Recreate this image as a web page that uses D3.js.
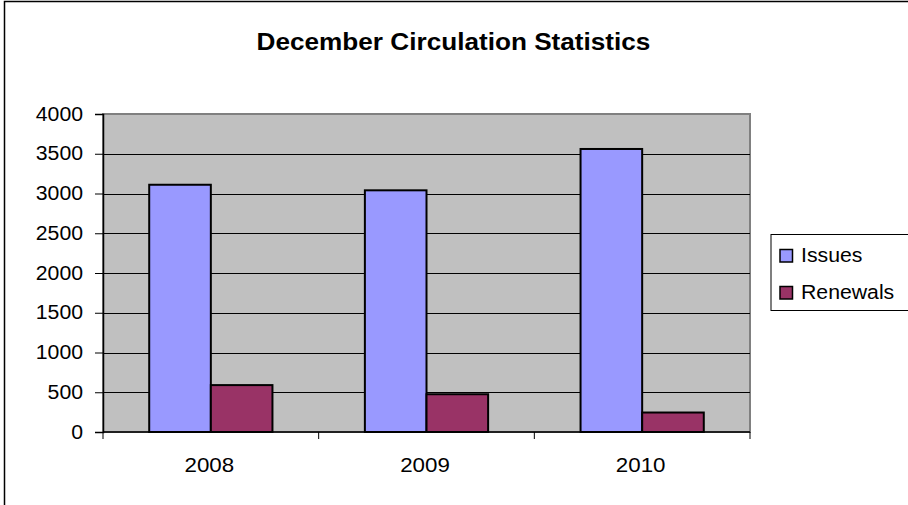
<!DOCTYPE html>
<html>
<head>
<meta charset="utf-8">
<script src="https://cdn.jsdelivr.net/npm/d3@7"></script>
<style>
  html, body { margin: 0; padding: 0; background: #fff; }
  svg { display: block; font-family: Arial, "Liberation Sans", sans-serif; }
</style>
</head>
<body>
<svg id="chart" width="908" height="505"></svg>
<script>
// Circulation figures per December
const years = ["2008", "2009", "2010"];
const seriesNames = ["Issues", "Renewals"];
const issues = [3110, 3040, 3560];
const renewals = [590, 475, 245];
const yTicks = [0, 500, 1000, 1500, 2000, 2500, 3000, 3500, 4000];
const colors = ["#9999FF", "#993366"];

// Text in this chart is drawn slightly wide
const STRETCH = 1.09;

const svg = d3.select("#chart");

// Helper: place a text at (x, y) with horizontal stretch
function wideText(parent, x, y, str, size, anchor, weight) {
  return parent.append("text")
    .attr("transform", `translate(${x},${y}) scale(${STRETCH},1)`)
    .attr("text-anchor", anchor || "start")
    .attr("font-size", size)
    .attr("font-weight", weight || "normal")
    .attr("fill", "#000")
    .text(str);
}

// Outer chart frame
svg.append("rect")
  .attr("x", 4.5).attr("y", 1.5)
  .attr("width", 920).attr("height", 520)
  .attr("fill", "#fff").attr("stroke", "#000").attr("stroke-width", 1.5);

// Title
wideText(svg, 453.5, 49.5, "December Circulation Statistics", 24, "middle", "bold");

const plot = { left: 103, right: 750, top: 114, bottom: 432 };

const x0 = d3.scaleBand()
  .domain(years)
  .range([plot.left, plot.right])
  .paddingInner(0).paddingOuter(0);

const barW = x0.bandwidth() / 3.5;
const x1 = d3.scaleBand().domain(seriesNames).range([0, barW * 2]);

const y = d3.scaleLinear().domain([0, 4000]).range([plot.bottom, plot.top]);

// Plot area background
svg.append("rect")
  .attr("x", plot.left).attr("y", plot.top)
  .attr("width", plot.right - plot.left).attr("height", plot.bottom - plot.top)
  .attr("fill", "#C0C0C0")
  .attr("stroke", "#808080").attr("stroke-width", 2);

// Horizontal gridlines
svg.append("g")
  .selectAll("line")
  .data(yTicks.filter(d => d > 0 && d < 4000))
  .join("line")
  .attr("x1", plot.left).attr("x2", plot.right)
  .attr("y1", d => Math.round(y(d)) + 0.5).attr("y2", d => Math.round(y(d)) + 0.5)
  .attr("stroke", "#000").attr("stroke-width", 1);

// Bars
const data = years.map((yr, i) => ({ year: yr, values: [issues[i], renewals[i]] }));
const groups = svg.append("g").selectAll("g")
  .data(data)
  .join("g")
  .attr("transform", d => `translate(${x0(d.year) + barW * 0.75},0)`);

groups.selectAll("rect")
  .data(d => d.values.map((v, j) => ({ name: seriesNames[j], value: v, j })))
  .join("rect")
  .attr("x", d => x1(d.name))
  .attr("y", d => y(d.value))
  .attr("width", barW)
  .attr("height", d => y(0) - y(d.value))
  .attr("fill", d => colors[d.j])
  .attr("stroke", "#000").attr("stroke-width", 2);

// Y axis
const yAxis = d3.axisLeft(y).tickValues(yTicks).tickSize(8).tickPadding(12).tickFormat(d3.format("d"));
const yG = svg.append("g")
  .attr("transform", `translate(${plot.left},0)`)
  .call(yAxis);
yG.select(".domain").attr("stroke", "#000").attr("stroke-width", 1.5);
yG.selectAll(".tick line").attr("stroke", "#000");
yG.selectAll(".tick text")
  .attr("x", -20 / STRETCH)
  .attr("transform", `scale(${STRETCH},1)`)
  .attr("font-size", 19.5).attr("fill", "#000")
  .attr("font-family", "Arial, 'Liberation Sans', sans-serif");

// X axis with ticks between categories
const xG = svg.append("g")
  .attr("transform", `translate(0,${plot.bottom})`);
xG.append("line")
  .attr("x1", plot.left).attr("x2", plot.right)
  .attr("y1", 0).attr("y2", 0)
  .attr("stroke", "#000").attr("stroke-width", 1.5);
const boundaries = years.map(d => x0(d)).concat([plot.right]);
xG.selectAll("line.tk")
  .data(boundaries)
  .join("line").attr("class", "tk")
  .attr("x1", d => d).attr("x2", d => d)
  .attr("y1", 0).attr("y2", 7)
  .attr("stroke", "#000");
years.forEach(yr => {
  wideText(xG, x0(yr) + x0.bandwidth() / 2 - 1.5, 39.5, yr, 20.5, "middle");
});

// Legend
const legend = svg.append("g");
legend.append("rect")
  .attr("x", 771).attr("y", 234.5)
  .attr("width", 140).attr("height", 76)
  .attr("fill", "#fff").attr("stroke", "#000").attr("stroke-width", 1);
seriesNames.forEach((name, i) => {
  const dy = i * 37;
  legend.append("rect")
    .attr("x", 780).attr("y", 249.5 + dy)
    .attr("width", 12.5).attr("height", 12.5)
    .attr("fill", colors[i])
    .attr("stroke", "#000").attr("stroke-width", 1.5);
  wideText(legend, 801, 262 + dy, name, 19.5, "start");
});
</script>
</body>
</html>
